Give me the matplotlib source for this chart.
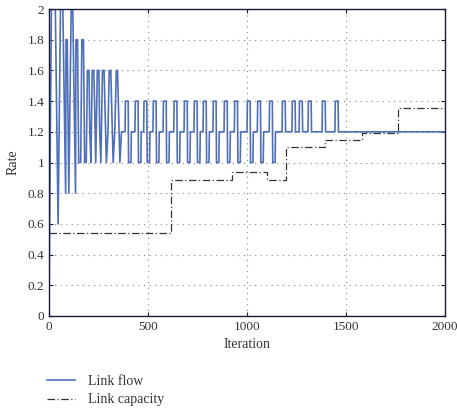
import matplotlib.pyplot as plt
import numpy as np

# link flow: corners of the early transient (iteration, rate)
early_iter = [0, 3, 12, 32, 46, 58, 70, 84, 86, 92, 100, 112, 120, 134, 136, 144,
              150, 160, 166, 174, 180, 188, 194, 202, 206, 212, 218, 226, 230, 236,
              244, 252, 256, 262, 270, 278, 282, 290, 298, 304, 312, 316, 324, 332,
              340, 346, 350, 358, 366]
early_rate = [0, 0.6, 2.0, 2.0, 0.6, 2.0, 2.0, 0.8, 1.8, 1.8, 0.8, 2.0, 2.0, 0.8, 1.8, 1.8,
              1.0, 1.0, 1.8, 1.8, 1.0, 1.0, 1.6, 1.6, 1.2, 1.0, 1.6, 1.6, 1.4, 1.0,
              1.6, 1.6, 1.2, 1.0, 1.6, 1.6, 1.4, 1.0, 1.2, 1.6, 1.6, 1.4, 1.0, 1.2,
              1.6, 1.6, 1.4, 1.0, 1.2]

# after the transient: base level, pulses up to 1.4, some followed by a dip to 1.0
base_rate = 1.2
pulse_rate = 1.4
dip_rate = 1.0
pulse_start = [384, 434, 478, 525, 576, 630, 682, 732, 778, 828, 884, 936, 1000,
               1052, 1112, 1177, 1227, 1263, 1308, 1379, 1444]
pulse_len = 16
dip_len = 12
dip_last = 1112  # last pulse that drops to 1.0
end_iter = 2000

# link capacity steps
cap_iter = [0, 616, 924, 1100, 1196, 1394, 1580, 1762, 2000]
cap_rate = [0.54, 0.885, 0.935, 0.885, 1.10, 1.147, 1.19, 1.353, 1.353]


def flow_series():
    xs = list(early_iter)
    ys = list(early_rate)
    for it in pulse_start:
        e = it + pulse_len
        if it <= dip_last:
            xs += [it, it + 2, e, e + 2, e + 2 + dip_len, e + 4 + dip_len]
            ys += [base_rate, pulse_rate, pulse_rate, dip_rate, dip_rate, base_rate]
        else:
            xs += [it, it + 2, e, e + 2]
            ys += [base_rate, pulse_rate, pulse_rate, base_rate]
    xs.append(end_iter)
    ys.append(base_rate)
    return xs, ys


fig = plt.figure(figsize=(4.57, 4.2), dpi=100, facecolor="white")
plt.rcParams["font.family"] = ["Liberation Serif", "DejaVu Serif"]
ax = fig.add_axes([49 / 457, 1 - 316 / 420, 396 / 457, 307 / 420])

fx, fy = flow_series()
ax.plot(fx, fy, color="#4f70b8", linewidth=1.2, label="Link flow")
ax.step(cap_iter, cap_rate, where="post", color="#333333", linewidth=0.9,
        linestyle=(0, (6, 2, 1, 2)), label="Link capacity")

ax.set_xlim(0, 2000)
ax.set_ylim(0, 2)
ax.set_xticks([0, 500, 1000, 1500, 2000])
ax.set_yticks(np.arange(0, 2.01, 0.2))
ax.set_yticklabels(["0", "0.2", "0.4", "0.6", "0.8", "1", "1.2", "1.4", "1.6", "1.8", "2"])
ax.grid(True, linestyle=(0, (1, 4)), color="#888888", linewidth=0.8)
ax.tick_params(direction="in", top=True, right=True, labelsize=9.5, length=3,
               color="#1a1a3a")
for s in ax.spines.values():
    s.set_color("#1a1a3a")
    s.set_linewidth(1.0)
ax.set_xlabel("Iteration", fontsize=10, color="#333333")
ax.set_ylabel("Rate", fontsize=10, color="#333333", labelpad=6)
for lab in ax.get_xticklabels() + ax.get_yticklabels():
    lab.set_color("#333333")

fig.legend(loc="upper left", bbox_to_anchor=(0.075, 0.138), frameon=False,
           fontsize=10, handlelength=2.0, labelspacing=0.42, handletextpad=1.0,
           labelcolor="#333333")

fig.savefig("out.png", dpi=100, facecolor="white")
plt.close(fig)
